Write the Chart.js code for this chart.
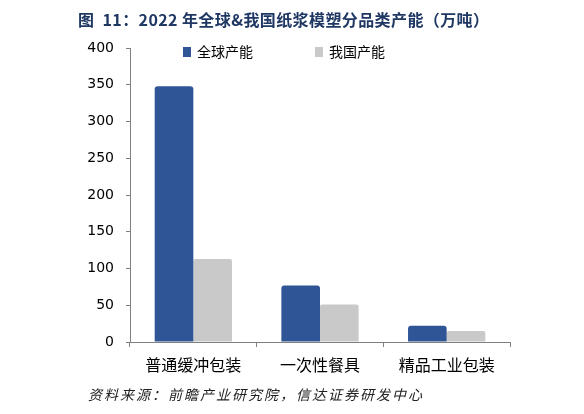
<!DOCTYPE html>
<html>
<head>
<meta charset="utf-8">
<script src="https://cdn.jsdelivr.net/npm/chart.js@4"></script>
<style>
  html, body { margin: 0; padding: 0; background: #fff; }
  #wrap { width: 584px; height: 414px; position: relative; }
</style>
</head>
<body>
<div id="wrap"><canvas id="c" width="584" height="414"></canvas></div>
<script>
// 2022年全球&我国纸浆模塑分品类产能（万吨）
const categories = ['普通缓冲包装', '一次性餐具', '精品工业包装'];
const globalCap = [348, 77, 22];
const chinaCap = [113, 51, 15];
const seriesNames = ['全球产能', '我国产能'];
const yTicks = [0, 50, 100, 150, 200, 250, 300, 350, 400];

const titleText = '图  11：2022 年全球&我国纸浆模塑分品类产能（万吨）';
const sourceText = '资料来源：前瞻产业研究院，信达证券研发中心';

const CJK = '"Noto Sans CJK SC", "Noto Sans", sans-serif';
const NUM = '"DejaVu Sans", Verdana, sans-serif';

// 标题、图例、资料来源
const decor = {
  id: 'decor',
  afterDraw(chart) {
    const ctx = chart.ctx;
    ctx.save();
    ctx.textBaseline = 'middle';
    ctx.textAlign = 'left';

    ctx.fillStyle = '#1f3763';
    ctx.font = 'bold 16px ' + CJK;
    ctx.letterSpacing = '0.4px';
    ctx.fillText(titleText, 78, 20);

    // 图例
    ctx.letterSpacing = '0px';
    const legendX = [183, 315];
    chart.data.datasets.forEach((ds, i) => {
      ctx.fillStyle = ds.backgroundColor;
      ctx.fillRect(legendX[i], 47, 8, 10);
      ctx.fillStyle = '#000';
      ctx.font = '14px ' + CJK;
      ctx.fillText(ds.label, legendX[i] + 14, 52);
    });

    ctx.fillStyle = '#222';
    ctx.font = 'italic 14px ' + CJK;
    ctx.letterSpacing = '2px';
    ctx.fillText(sourceText, 88, 395);
    ctx.restore();
  }
};

new Chart(document.getElementById('c'), {
  type: 'bar',
  data: {
    labels: categories,
    datasets: [
      {
        label: seriesNames[0],
        data: globalCap,
        backgroundColor: '#2f5597',
        borderRadius: { topLeft: 3, topRight: 3 },
        borderSkipped: 'bottom',
        categoryPercentage: 0.61,
        barPercentage: 1.0
      },
      {
        label: seriesNames[1],
        data: chinaCap,
        backgroundColor: '#c9c9c9',
        borderRadius: { topLeft: 2, topRight: 2 },
        borderSkipped: 'bottom',
        categoryPercentage: 0.61,
        barPercentage: 1.0
      }
    ]
  },
  options: {
    responsive: false,
    animation: false,
    devicePixelRatio: 1,
    layout: { padding: { top: 48, left: 0, right: 74, bottom: 0 } },
    plugins: {
      legend: { display: false },
      title: { display: false },
      tooltip: { enabled: false }
    },
    scales: {
      x: {
        grid: {
          offset: true,
          drawOnChartArea: false,
          drawTicks: true,
          tickLength: 5,
          color: '#808080'
        },
        border: { display: true, color: '#808080', width: 1 },
        ticks: {
          color: '#000',
          padding: 8,
          font: { family: CJK, size: 16 }
        },
        afterFit(scale) { scale.height = 72; }
      },
      y: {
        min: 0,
        max: 400,
        afterBuildTicks(scale) {
          scale.ticks = yTicks.map(v => ({ value: v }));
        },
        grid: {
          drawOnChartArea: false,
          drawTicks: true,
          tickLength: 4,
          color: '#808080'
        },
        border: { display: true, color: '#808080', width: 1 },
        ticks: {
          color: '#000',
          padding: 12,
          font: { family: NUM, size: 14 }
        },
        afterFit(scale) { scale.width = 130; }
      }
    }
  },
  plugins: [decor]
});
</script>
</body>
</html>
